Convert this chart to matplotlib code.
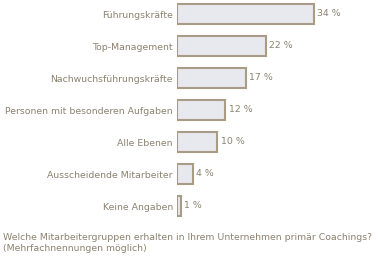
import matplotlib
matplotlib.use('Agg')
import matplotlib.pyplot as plt

# data
categories = ['Führungskräfte', 'Top-Management', 'Nachwuchsführungskräfte',
              'Personen mit besonderen Aufgaben', 'Alle Ebenen',
              'Ausscheidende Mitarbeiter', 'Keine Angaben']
values = [34, 22, 17, 12, 10, 4, 1]
question = 'Welche Mitarbeitergruppen erhalten in Ihrem Unternehmen primär Coachings?\n(Mehrfachnennungen möglich)'

txt_col = '#8c8270'
edge_col = '#a89c86'
fill_col = '#e8e9ee'
fs = 6.75

W, H = 378, 264
fig = plt.figure(figsize=(W/100, H/100), dpi=100)
fig.patch.set_facecolor('white')

# axes in pixel layout: bars start at x=177, 1 % ~ 4.03 px, rows every 32 px
left = 177
ax = fig.add_axes([left/W, 0, (W-left)/W, 1])
ax.set_xlim(0, (W-left)/4.03)
ax.set_ylim((H-14)/32, -14/32)

pos = list(range(len(categories)))
ax.barh(pos, values, height=0.6, color=fill_col, edgecolor=edge_col, linewidth=1.5)

for p, v in zip(pos, values):
    ax.text(v + 0.8, p, f'{v} %', va='center', ha='left', fontsize=fs, color=txt_col)

ax.set_yticks(pos)
ax.set_yticklabels(categories, fontsize=fs, color=txt_col)
ax.tick_params(axis='y', length=0, pad=3)
ax.set_xticks([])
for s in ax.spines.values():
    s.set_visible(False)

fig.text(3/W, 1-233/H, question, fontsize=fs, color=txt_col, va='top', ha='left',
         linespacing=1.35)

fig.savefig('out.png', dpi=100)
